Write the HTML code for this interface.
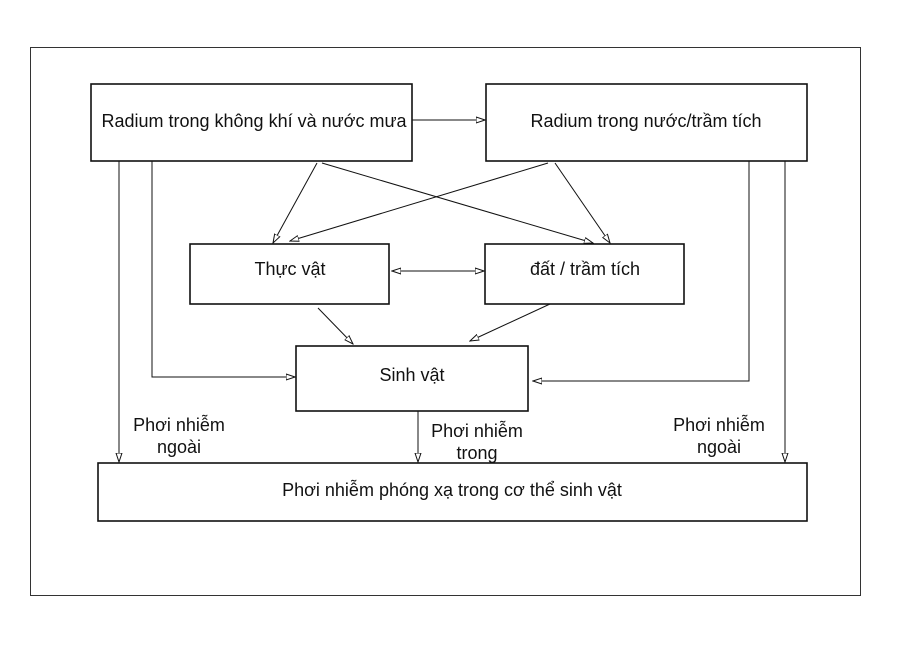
<!DOCTYPE html>
<html><head><meta charset="utf-8"><style>
html,body{margin:0;padding:0;background:#fff;}
svg text{font-family:"Liberation Sans",sans-serif;font-size:18px;fill:#111;}
</style></head><body>
<svg width="900" height="642" xmlns="http://www.w3.org/2000/svg">
<defs>
<marker id="a" markerWidth="10" markerHeight="8" refX="9" refY="4" orient="auto" markerUnits="userSpaceOnUse">
<path d="M0,1 L9,4 L0,7 Z" fill="#fff" stroke="#111" stroke-width="1"/></marker>
</defs>
<rect x="30.5" y="47.5" width="830" height="548" fill="none" stroke="#333" stroke-width="1"/>
<g fill="#fff" stroke="#111" stroke-width="1.6">
<rect x="91" y="84" width="321" height="77"/>
<rect x="486" y="84" width="321" height="77"/>
<rect x="190" y="244" width="199" height="60"/>
<rect x="485" y="244" width="199" height="60"/>
<rect x="296" y="346" width="232" height="65"/>
<rect x="98" y="463" width="709" height="58"/>
</g>
<g stroke="#111" stroke-width="1" fill="none" marker-end="url(#a)">
<line x1="412" y1="120" x2="485" y2="120"/>
<line x1="317" y1="163" x2="273" y2="243"/>
<line x1="322" y1="163" x2="593" y2="243"/>
<line x1="555" y1="163" x2="610" y2="243"/>
<line x1="548" y1="163" x2="290" y2="241"/>
<line x1="395" y1="271" x2="484" y2="271"/>
<line x1="420" y1="271" x2="392" y2="271"/>
<line x1="318" y1="308" x2="353" y2="344"/>
<line x1="550" y1="304" x2="470" y2="341"/>
<line x1="119" y1="161" x2="119" y2="462"/>
<polyline points="152,161 152,377 295,377"/>
<polyline points="749,161 749,381 533,381"/>
<line x1="785" y1="161" x2="785" y2="462"/>
<line x1="418" y1="411" x2="418" y2="462"/>
</g>
<text x="254" y="127" text-anchor="middle">Radium trong không khí và nước mưa</text>
<text x="646" y="127" text-anchor="middle">Radium trong nước/trầm tích</text>
<text x="290" y="275" text-anchor="middle">Thực vật</text>
<text x="585" y="275" text-anchor="middle">đất / trầm tích</text>
<text x="412" y="381" text-anchor="middle">Sinh vật</text>
<text x="452" y="496" text-anchor="middle">Phơi nhiễm phóng xạ trong cơ thể sinh vật</text>
<text x="179" y="431" text-anchor="middle">Phơi nhiễm</text>
<text x="179" y="453" text-anchor="middle">ngoài</text>
<text x="477" y="437" text-anchor="middle">Phơi nhiễm</text>
<text x="477" y="459" text-anchor="middle">trong</text>
<text x="719" y="431" text-anchor="middle">Phơi nhiễm</text>
<text x="719" y="453" text-anchor="middle">ngoài</text>
</svg>
</body></html>
